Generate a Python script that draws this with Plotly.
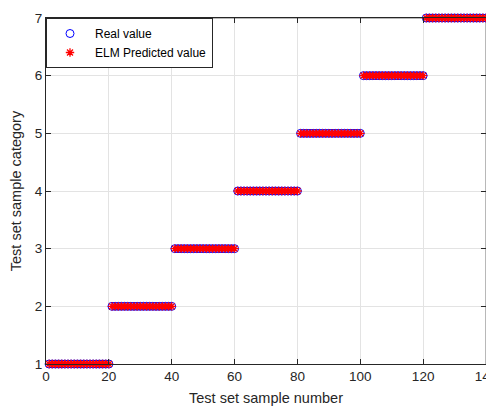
import plotly.graph_objects as go

# Data: 140 test samples, 20 per category
sample_index = list(range(1, 141))
real_value = [1]*20 + [2]*20 + [3]*20 + [4]*20 + [5]*20 + [6]*20 + [7]*20
predicted_value = [1]*20 + [2]*20 + [3]*20 + [4]*20 + [5]*20 + [6]*20 + [7]*20
x_ticks = [0, 20, 40, 60, 80, 100, 120, 140]
y_ticks = [1, 2, 3, 4, 5, 6, 7]

FONT = "Liberation Sans, Arial, Helvetica, sans-serif"

fig = go.Figure()
fig.add_trace(go.Scatter(
    x=sample_index, y=real_value, mode="markers", name="Real value",
    marker=dict(symbol="circle-open", size=8, color="blue", line=dict(width=1, color="blue")),
    cliponaxis=False,
))
fig.add_trace(go.Scatter(
    x=sample_index, y=predicted_value, mode="markers", name="ELM Predicted value",
    marker=dict(symbol="asterisk-open", size=7, color="red", line=dict(width=1.3, color="red")),
    cliponaxis=False,
))

axis_common = dict(
    showgrid=True, gridcolor="#e3e3e3", gridwidth=1,
    showline=True, linecolor="#262626", linewidth=1,
    ticks="inside", ticklen=5, tickcolor="#262626", mirror="ticks",
    zeroline=False, automargin=False, ticklabeloverflow="allow",
    tickfont=dict(family=FONT, size=13.5, color="#262626"),
)

fig.update_xaxes(range=[0, 140], tickvals=x_ticks,
                 title=dict(text="Test set sample number", font=dict(family=FONT, size=14.5, color="#262626"), standoff=9),
                 **axis_common)
fig.update_yaxes(range=[1, 7], tickvals=y_ticks,
                 title=dict(text="Test set sample category", font=dict(family=FONT, size=14.5, color="#262626"), standoff=9),
                 **axis_common)

# MATLAB-style lighter top/right box lines
fig.add_shape(type="line", xref="paper", yref="paper", x0=0, x1=1, y0=1, y1=1,
              line=dict(color="#a0a0a0", width=1.5), layer="below")
fig.add_shape(type="line", xref="paper", yref="paper", x0=1, x1=1, y0=0, y1=1,
              line=dict(color="#a0a0a0", width=1.5), layer="below")

# page body has an 8px default margin, so the figure is sized/offset to compensate
fig.update_layout(
    width=486, height=400,
    margin=dict(l=38, r=8, t=10, b=44),
    plot_bgcolor="white", paper_bgcolor="white",
    font=dict(family=FONT, size=12, color="#262626"),
    legend=dict(x=0, y=1, xanchor="left", yanchor="top",
                bgcolor="white", bordercolor="#262626", borderwidth=1,
                font=dict(family=FONT, size=12, color="black"),
                itemwidth=40, tracegroupgap=0, indentation=-2),
    showlegend=True,
)

fig.write_html("out.html")
